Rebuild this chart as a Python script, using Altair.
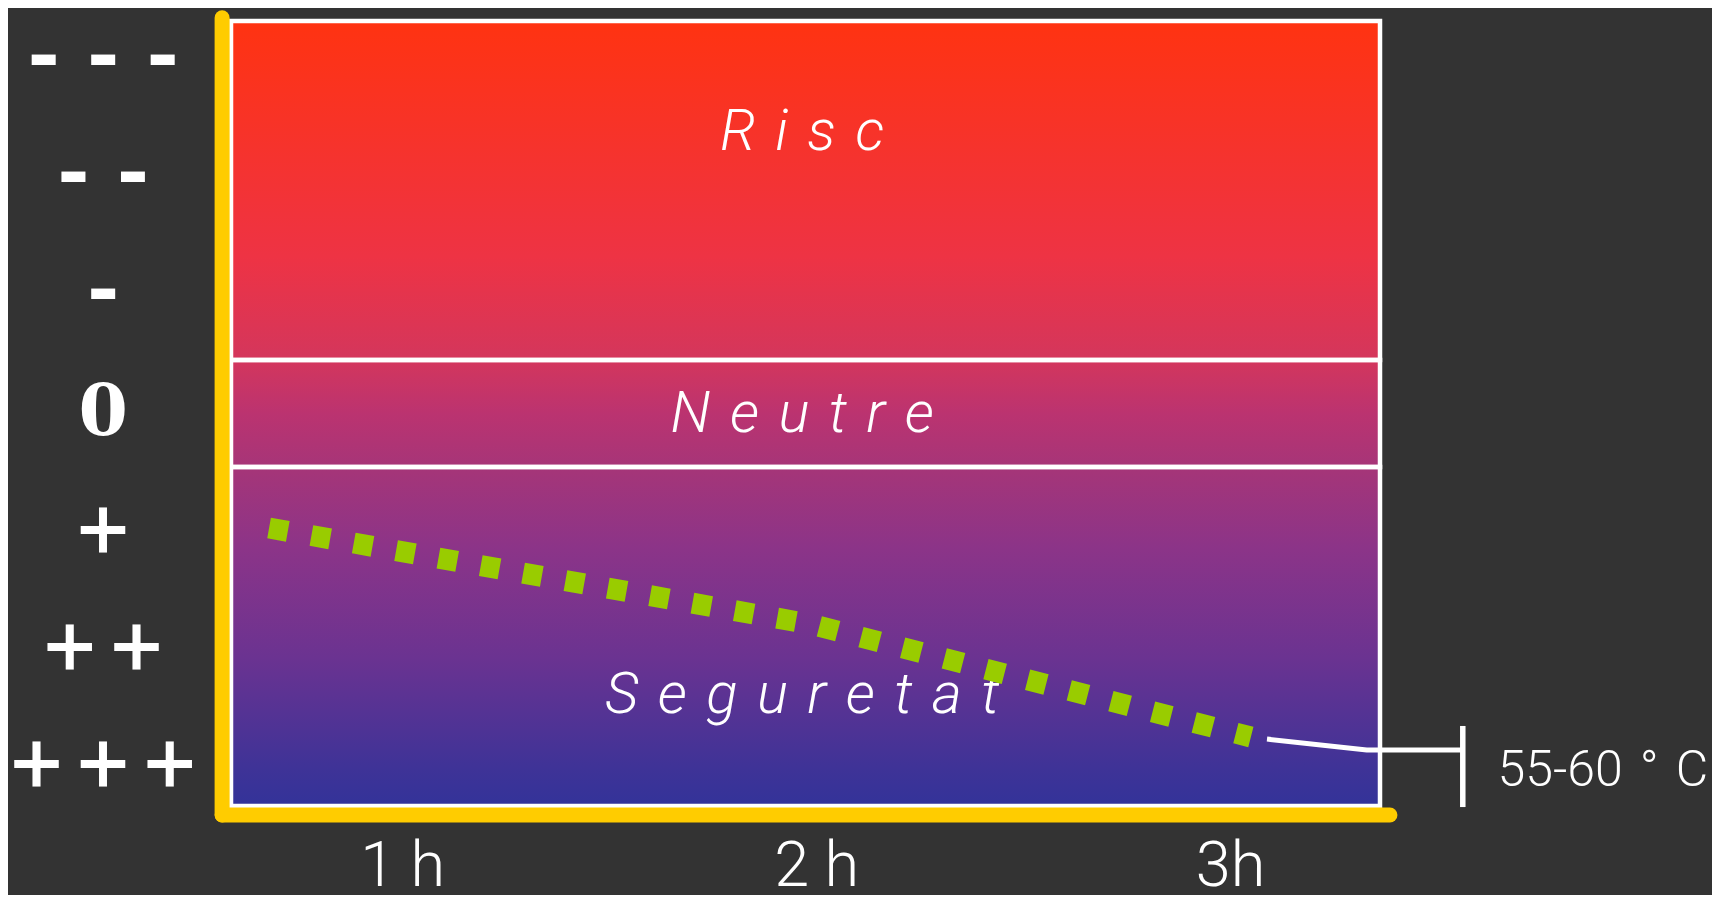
import altair as alt
import pandas as pd

# ---- data ----
# zones of the scale (level: -3 = "- - -" at top ... +3 = "+++" at bottom)
GAP = "\u2004"  # letter gap used in the zone names
zona_nom = [GAP.join("Risc"), GAP.join("Neutre"), GAP.join("Seguretat")]
zona_inici = [-3.333, -0.436, 0.479]
zona_fi = [-0.436, 0.479, 3.376]
zona_etiqueta = [-2.23, 0.18, 2.581]

# time axis extent (hours)
temps_inici = 0.585
temps_fi = 3.361

# left scale labels
nivell_valor = [-3, -2, -1, 0, 1, 2, 3]
nivell_text = ["- - -", "- -", "-", "0", "+", "+\u200a+", "+\u200a+\u200a+"]

# bottom labels
hores_valor = [1, 2, 3]
hores_text = ["1 h", "2 h", "3h"]

# green dotted curve (hours, level)
corba_hores = [0.677, 1.984, 3.049]
corba_nivell = [1.0, 1.821, 2.786]

# white leader line to the temperature label
guia_hores = [3.088, 3.329, 3.561]
guia_nivell = [2.804, 2.898, 2.898]
temperatura_text = "55-60\u2004\u00b0\u2004C"

# yellow axes
eix_x = [0.5635, 0.5635]
eix_x2 = [0.5635, 3.385]
eix_y = [-3.36, 3.453]
eix_y2 = [3.453, 3.453]

# ---- tables ----
zones = pd.DataFrame({"zona": zona_nom, "inici": zona_inici, "fi": zona_fi,
                      "etiqueta": zona_etiqueta,
                      "t0": [temps_inici] * 3, "t1": [temps_fi] * 3,
                      "tc": [(temps_inici + temps_fi) / 2 - 0.008] * 3})
nivells = pd.DataFrame({"nivell": nivell_valor, "text": nivell_text,
                        "x": [0.276] * len(nivell_valor)})
hores = pd.DataFrame({"hores": hores_valor, "text": hores_text,
                      "y": [4.06] * len(hores_valor)})
corba = pd.DataFrame({"hores": corba_hores, "nivell": corba_nivell})
guia = pd.DataFrame({"hores": guia_hores, "nivell": guia_nivell})
marca = pd.DataFrame({"hores": [guia_hores[-1]], "y0": [2.692], "y1": [3.385]})
temp = pd.DataFrame({"hores": [3.645], "nivell": [3.205], "text": [temperatura_text]})
eixos = pd.DataFrame({"x": eix_x, "x2": eix_x2, "y": eix_y, "y2": eix_y2})

xs = alt.Scale(domain=[temps_inici, temps_fi], nice=False, zero=False)
ys = alt.Scale(domain=[-3.333, 3.376], nice=False, zero=False, reverse=True)

def X(f):
    return alt.X(f, type="quantitative", scale=xs, axis=None)

def Y(f):
    return alt.Y(f, type="quantitative", scale=ys, axis=None)

grad = alt.Gradient(
    gradient="linear", x1=0, x2=0, y1=0, y2=1,
    stops=[
        alt.GradientStop(color="#FF3311", offset=0.0),
        alt.GradientStop(color="#EE3344", offset=0.30),
        alt.GradientStop(color="#D4365C", offset=0.43),
        alt.GradientStop(color="#BB3370", offset=0.50),
        alt.GradientStop(color="#A43579", offset=0.575),
        alt.GradientStop(color="#8C3488", offset=0.67),
        alt.GradientStop(color="#6B3391", offset=0.81),
        alt.GradientStop(color="#3F3397", offset=0.95),
        alt.GradientStop(color="#333399", offset=1.0),
    ])

fons = alt.Chart(zones).transform_aggregate(
    a="min(inici)", b="max(fi)", t0="min(t0)", t1="max(t1)"
).mark_rect(color=grad).encode(x=X("t0"), x2="t1", y=Y("a"), y2="b")

vores = alt.Chart(zones).mark_rect(
    fillOpacity=0, stroke="white", strokeWidth=4.5
).encode(x=X("t0"), x2="t1", y=Y("inici"), y2="fi")

etiquetes_zona = alt.Chart(zones).mark_text(
    font="Roboto", fontStyle="italic", fontWeight=300, fontSize=58,
    color="white", align="center", baseline="alphabetic"
).encode(x=X("tc"), y=Y("etiqueta"), text="zona:N")

linia_verda = alt.Chart(corba).mark_line(
    color="#99CC00", strokeWidth=21, strokeDash=[19, 24], strokeCap="butt"
).encode(x=X("hores"), y=Y("nivell"))

linia_guia = alt.Chart(guia).mark_line(
    color="white", strokeWidth=5, strokeJoin="miter"
).encode(x=X("hores"), y=Y("nivell"))

marca_v = alt.Chart(marca).mark_rule(color="white", strokeWidth=5.5).encode(
    x=X("hores"), y=Y("y0"), y2="y1")

text_temp = alt.Chart(temp).mark_text(
    font="Roboto", fontWeight=300, fontSize=50, color="white",
    align="left", baseline="alphabetic"
).encode(x=X("hores"), y=Y("nivell"), text="text:N")

eixos_grocs = alt.Chart(eixos).mark_rule(
    color="#FFCC00", strokeWidth=15, strokeCap="round"
).encode(x=X("x"), x2="x2", y=Y("y"), y2="y2")

etiquetes_menys = alt.Chart(nivells).transform_filter(
    alt.datum.nivell < 0
).mark_text(
    font="DejaVu Serif", fontWeight="bold", fontSize=78, color="white",
    align="center", baseline="middle", dy=-2
).encode(x=X("x"), y=Y("nivell"), text="text:N")

etiquetes_mes = alt.Chart(nivells).transform_filter(
    alt.datum.nivell >= 0
).mark_text(
    font="DejaVu Serif", fontWeight="bold", fontSize=71, color="white",
    align="center", baseline="middle", dy=3
).encode(x=X("x"), y=Y("nivell"), text="text:N")

etiquetes_hores = alt.Chart(hores).mark_text(
    font="Roboto", fontWeight=300, fontSize=63, color="white",
    align="center", baseline="alphabetic"
).encode(x=X("hores"), y=Y("y"), text="text:N")

chart = alt.layer(
    fons, vores, etiquetes_zona, linia_verda, linia_guia, marca_v,
    text_temp, eixos_grocs, etiquetes_menys, etiquetes_mes, etiquetes_hores
).properties(
    width=1149, height=785,
    padding={"left": 223, "top": 13, "right": 332, "bottom": 89},
    autosize=alt.AutoSizeParams(type="none"),
    background="#333333",
).configure_view(strokeWidth=0)

chart.save("out.html", embed_options={"renderer": "svg", "actions": False})
